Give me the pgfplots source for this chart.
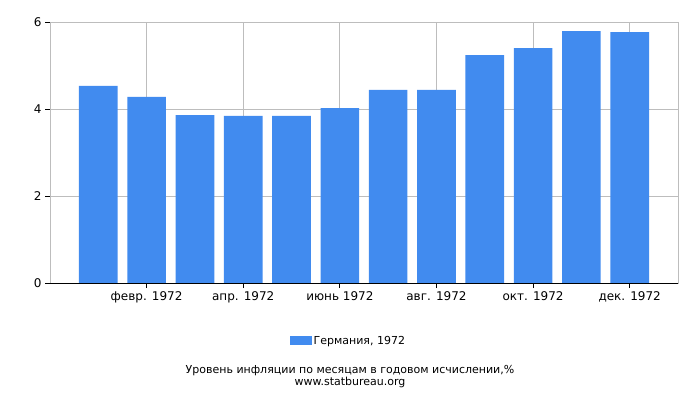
\documentclass[border=0pt]{standalone}
\usepackage{pgfplots}
\pgfplotsset{compat=1.18}
\usepackage{fontspec}
\setmainfont{DejaVu Sans}
\definecolor{barblue}{HTML}{418BEF}
\definecolor{gridgray}{HTML}{BDBDBD}
\begin{document}
\begin{tikzpicture}
\useasboundingbox (0pt,0pt) rectangle (700pt,400pt);
\begin{axis}[
    at={(50pt,117pt)}, anchor=south west,
    scale only axis, width=628pt, height=261pt,
    xmin=-1, xmax=12, ymin=0, ymax=6,
    xtick={1,3,5,7,9,11},
    xticklabels={февр. 1972, апр. 1972, июнь 1972, авг. 1972, окт. 1972, дек. 1972},
    ytick={0,2,4,6},
    xmajorgrids, ymajorgrids,
    grid style={gridgray, line width=0.8pt},
    axis line style={gridgray, line width=0.8pt},
    tick style={black, line width=0.8pt},
    tick align=outside, major tick length=5pt,
    xtick pos=bottom, ytick pos=left,
    tick label style={font=\fontsize{12}{14}\selectfont},
    /pgf/number format/assume math mode=true,
    legend style={at={(0.475,-0.222)}, anchor=center, draw=none,
        font=\fontsize{11}{13}\selectfont, legend columns=1},
    legend image code/.code={\fill[barblue] (0pt,-4.5pt) rectangle (22pt,4.5pt);},
]
\addplot[ybar, bar width=0.8, fill=barblue, draw=none] coordinates {
(0,4.53) (1,4.28) (2,3.86) (3,3.84) (4,3.84) (5,4.02)
(6,4.44) (7,4.44) (8,5.24) (9,5.40) (10,5.79) (11,5.77)};
\addlegendentry{Германия, 1972}
\draw[black, line width=0.8pt] (axis cs:-1,0) -- (axis cs:12,0);
\end{axis}
\node[font=\fontsize{11}{12}\selectfont] at (350pt,29pt) {Уровень инфляции по месяцам в годовом исчислении,\%};
\node[font=\fontsize{11}{12}\selectfont] at (350pt,18pt) {www.statbureau.org};
\end{tikzpicture}
\end{document}
